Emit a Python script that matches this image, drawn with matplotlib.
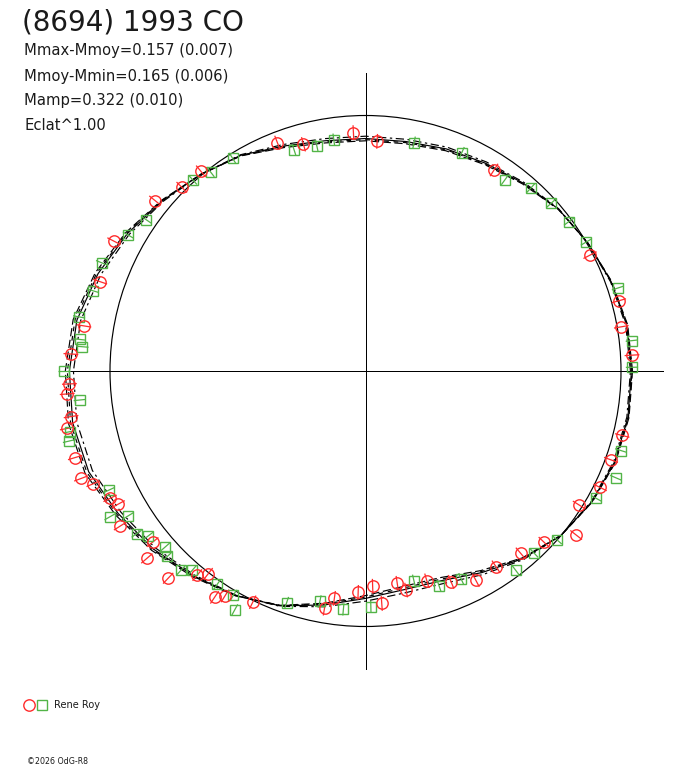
import numpy as np
import matplotlib
matplotlib.use("Agg")
import matplotlib.pyplot as plt
from matplotlib.patches import Circle
from matplotlib.collections import LineCollection

# ── Texts ──────────────────────────────────────────────────────────
TITLE = "(8694) 1993 CO"
INFO = ["Mmax-Mmoy=0.157 (0.007)",
        "Mmoy-Mmin=0.165 (0.006)",
        "Mamp=0.322 (0.010)",
        "Eclat^1.00"]
OBSERVER = "Rene Roy"
CREDIT = "\u00a92026 OdG-R8"

# ── Fitted light curve, radius vs polar angle (ref circle = 1) ─────
fit_angle = list(range(0, 360, 10))
fit_r = [1.041, 1.038, 1.023, 1.004, 0.986, 0.960, 0.939, 0.925, 0.912, 0.910,
         0.915, 0.937, 0.975, 1.004, 1.037, 1.076, 1.114, 1.147, 1.159, 1.164,
         1.153, 1.117, 1.084, 1.047, 1.015, 0.978, 0.930, 0.890, 0.869, 0.873,
         0.911, 0.959, 1.000, 1.023, 1.038, 1.043]
amp_spread = 0.10   # spread of the dashed envelope curves

# ── Observations (two sessions) ────────────────────────────────────
red_angle = [135.0, 129.5, 111.1, 105.3, 92.9, 87.1, 57.4, 27.3, 15.5, 9.8,
             3.4, 345.9, 340.1, 333.6, 327.9, 322.1, 316.2, 310.4, 303.7, 297.8,
             292.1, 286.3, 280.5, 278.5, 274.0, 271.9, 268.1, 262.2, 260.2, 244.0,
             238.0, 236.3, 232.2, 230.5, 226.4, 220.6, 218.8, 212.3, 208.3, 206.5,
             202.5, 200.7, 196.6, 190.9, 188.8, 184.4, 182.5, 176.7, 170.9, 161.4,
             152.7, 141.0]
red_r = [1.017, 1.013, 0.958, 0.920, 0.934, 0.900, 0.934, 0.989, 1.029, 1.016,
         1.045, 1.036, 1.022, 1.025, 0.987, 1.045, 0.968, 0.937, 0.921, 0.926,
         0.891, 0.855, 0.872, 0.840, 0.912, 0.843, 0.867, 0.898, 0.942, 1.007,
         1.038, 1.065, 1.005, 1.035, 1.120, 1.127, 1.069, 1.136, 1.099, 1.117,
         1.153, 1.190, 1.186, 1.189, 1.166, 1.171, 1.160, 1.155, 1.116, 1.096,
         1.108, 1.060]

green_angle = [132.1, 127.9, 122.0, 107.9, 102.2, 97.8, 78.0, 66.2, 53.9, 47.9,
               42.1, 36.3, 30.3, 18.2, 6.5, 0.8, 342.7, 336.9, 331.1, 318.6,
               312.8, 307.0, 294.7, 288.9, 283.0, 271.3, 264.7, 258.8, 251.2, 241.3,
               239.5, 235.2, 229.0, 227.2, 223.1, 221.3, 217.2, 215.4, 211.4, 209.7,
               204.9, 193.3, 191.6, 185.8, 180.0, 175.1, 173.7, 169.3, 163.6, 157.7,
               150.2, 145.4]
green_r = [1.008, 0.987, 0.982, 0.909, 0.902, 0.914, 0.914, 0.934, 0.926, 0.966,
           0.979, 0.988, 1.000, 1.039, 1.049, 1.043, 1.047, 1.065, 1.032, 1.000,
           0.970, 0.976, 0.896, 0.889, 0.842, 0.923, 0.937, 0.919, 0.958, 1.065,
           1.018, 1.017, 1.034, 1.063, 1.062, 1.043, 1.068, 1.099, 1.089, 1.152,
           1.107, 1.193, 1.182, 1.124, 1.180, 1.112, 1.126, 1.141, 1.113, 1.116,
           1.070, 1.042]
red_err = 0.029
green_err = 0.024

RED = "#ff2b2b"
GREEN = "#52b447"
INK = "#000000"
TXT = "#1a1a1a"

W, H = 688, 768
CX, CY, SCALE = 365.5, 371.0, 255.5   # centre & ref radius in pixels
AXIS_LEN = 1.165
LW = 0.85


def to_xy(angle, r):
    t = np.radians(np.asarray(angle, float))
    r = np.asarray(r, float)
    return r * np.cos(t), r * np.sin(t)


fig = plt.figure(figsize=(W / 100, H / 100), dpi=100)
ax = fig.add_axes([0, 0, 1, 1])
ax.set_xlim(-CX / SCALE, (W - CX) / SCALE)
ax.set_ylim(-(H - CY) / SCALE, CY / SCALE)
ax.axis("off")

# crosshair and reference circle
ax.plot([-AXIS_LEN, AXIS_LEN], [0, 0], color=INK, lw=0.72, antialiased=False)
ax.plot([0, 0], [-AXIS_LEN, AXIS_LEN], color=INK, lw=0.72, antialiased=False)
ax.add_patch(Circle((0, 0), 1.0, fill=False, ec=INK, lw=LW))

# fitted curve plus envelopes
ang_c = fit_angle + [fit_angle[0]]
r_c = np.array(fit_r + [fit_r[0]])
x, y = to_xy(ang_c, r_c)
ax.plot(x, y, color=INK, lw=LW)
for k, ls in [(1 + amp_spread, (0, (7, 3))), (1 - amp_spread, (0, (7, 3, 2, 3))),
              (1 + amp_spread / 2, (0, (4, 4)))]:
    x, y = to_xy(ang_c, 1 + (r_c - 1) * k)
    ax.plot(x, y, color=INK, lw=LW, ls=ls)

# radial error bars
for ang, rr, err, col in [(red_angle, red_r, red_err, RED),
                          (green_angle, green_r, green_err, GREEN)]:
    x0, y0 = to_xy(ang, np.array(rr) - err)
    x1, y1 = to_xy(ang, np.array(rr) + err)
    segs = np.stack([np.column_stack([x0, y0]), np.column_stack([x1, y1])], axis=1)
    ax.add_collection(LineCollection(segs, colors=col, lw=0.9, zorder=3))

x, y = to_xy(green_angle, green_r)
ax.plot(x, y, ls="none", marker="s", ms=6.6, mfc="none", mec=GREEN, mew=1.0, zorder=4)
x, y = to_xy(red_angle, red_r)
ax.plot(x, y, ls="none", marker="o", ms=8.2, mfc="none", mec=RED, mew=1.0, zorder=4)

# texts
fig.text(22 / W, 1 - 22 / H, TITLE, fontsize=20, color=TXT, va="center",
         family="DejaVu Sans")
for i, line in enumerate(INFO):
    fig.text(24 / W, 1 - (51 + 25 * i) / H, line, fontsize=10.6, color=TXT,
             va="center", family="DejaVu Sans")

# legend
ax_leg = fig.add_axes([0, 0, 1, 1])
ax_leg.set_xlim(0, W)
ax_leg.set_ylim(H, 0)
ax_leg.axis("off")
ax_leg.plot([29], [705], marker="o", ms=8.2, mfc="none", mec=RED, mew=1.0)
ax_leg.plot([41.5], [705], marker="s", ms=6.6, mfc="none", mec=GREEN, mew=1.0)
ax_leg.text(54, 705, OBSERVER, fontsize=7, color=TXT, va="center")
ax_leg.text(27, 762, CREDIT, fontsize=5.7, color=TXT, va="center")

fig.savefig("out.png", dpi=100)
